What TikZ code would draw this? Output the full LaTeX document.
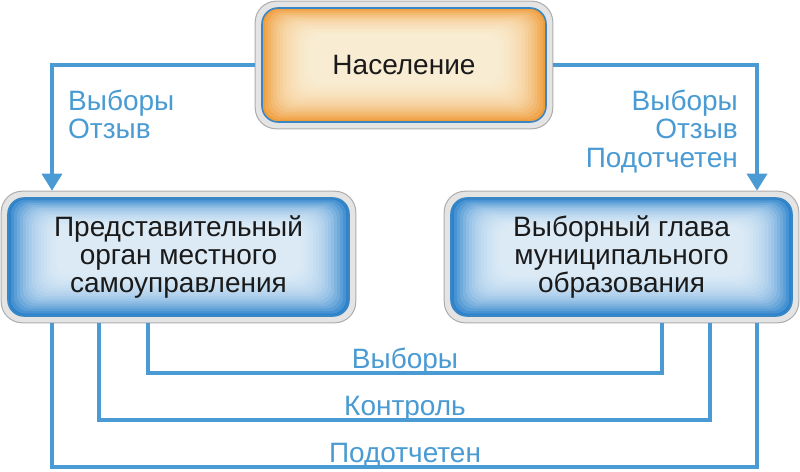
\documentclass[tikz,border=0pt]{standalone}
\usepackage{fontspec}
\setmainfont{Liberation Sans}
\usetikzlibrary{arrows.meta,calc,fit,backgrounds}
\definecolor{lineblue}{HTML}{4A9BD3}
\definecolor{framegray}{HTML}{E4E4E4}
\definecolor{framedraw}{HTML}{ADADAD}
\definecolor{boxborder}{HTML}{3A87C4}
\definecolor{orangeedge}{HTML}{EF9C3A}
\definecolor{orangecenter}{HTML}{FFFBEA}
\definecolor{blueedge}{HTML}{2C83CC}
\definecolor{bluecenter}{HTML}{F6FBFF}
\definecolor{textdark}{HTML}{1A1A1A}
\tikzset{
  boxbase/.style={rounded corners=16pt, draw=boxborder, line width=1.6pt, align=center,
    text=textdark, font=\fontsize{28}{28}\selectfont, inner sep=0pt},
  glow/.style 2 args={fill=#1, path picture={
    \foreach \i in {1,...,16}{
      \fill[#2, opacity=0.13, rounded corners=14pt]
        ($(path picture bounding box.south west)+(\i*3pt,\i*2.5pt)$) rectangle
        ($(path picture bounding box.north east)-(\i*3pt,\i*1.7pt)$);
    }}},
  framebox/.style={rounded corners=21pt, fill=framegray, draw=framedraw, line width=1pt, inner sep=6pt},
  conn/.style={draw=lineblue, line width=3.5pt},
  arrowconn/.style={conn, -{Triangle[width=20pt,length=17pt]}},
  lbl/.style={text=lineblue, font=\fontsize{28}{28}\selectfont, inner sep=0pt},
}
\begin{document}
\begin{tikzpicture}[x=1pt, y=-1pt]
\useasboundingbox (0,0) rectangle (800,471);

\node[boxbase, glow={orangeedge}{orangecenter}, minimum width=284pt, minimum height=114pt] (pop) at (404,65) {Население};
\node[boxbase, glow={blueedge}{bluecenter}, minimum width=341pt, minimum height=118pt] (rep) at (178.5,257) {Представительный\\орган местного\\самоуправления};
\node[boxbase, glow={blueedge}{bluecenter}, minimum width=341pt, minimum height=118pt] (head) at (621.5,257) {Выборный глава\\муниципального\\образования};

\begin{scope}[on background layer]
  \fill[white] (0,0) rectangle (800,471);
  \node[framebox, fit=(pop)] (popf) {};
  \node[framebox, fit=(rep)] (repf) {};
  \node[framebox, fit=(head)] (headf) {};
\end{scope}

\coordinate (xl) at (52,0);
\coordinate (xr) at (757,0);
\coordinate (b1l) at (148,0);
\coordinate (b2l) at (99,0);
\coordinate (b3l) at (52,0);
\coordinate (b1r) at (662,0);
\coordinate (b2r) at (710,0);
\coordinate (b3r) at (757,0);
\coordinate (y1) at (0,373);
\coordinate (y2) at (0,420);
\coordinate (y3) at (0,467);

\draw[arrowconn] (popf.west) -| (repf.north -| xl);
\draw[arrowconn] (popf.east) -| (headf.north -| xr);

\draw[conn] (repf.south -| b1l) -- (b1l |- y1) -| (headf.south -| b1r);
\draw[conn] (repf.south -| b2l) -- (b2l |- y2) -| (headf.south -| b2r);
\draw[conn] (repf.south -| b3l) -- (b3l |- y3) -| (headf.south -| b3r);

\node[lbl, anchor=base west] (lv) at (68,110) {Выборы};
\node[lbl, anchor=base west] (lo) at (68,138) {Отзыв};
\node[lbl, anchor=base east] (rv) at (738,110) {Выборы};
\node[lbl, anchor=base east] (ro) at (738,138) {Отзыв};
\node[lbl, anchor=base east] (rp) at (738,167) {Подотчетен};

\node[lbl, anchor=base] (bv) at (405,368) {Выборы};
\node[lbl, anchor=base] (bk) at (405,415) {Контроль};
\node[lbl, anchor=base] (bp) at (405,462) {Подотчетен};
\end{tikzpicture}
\end{document}
